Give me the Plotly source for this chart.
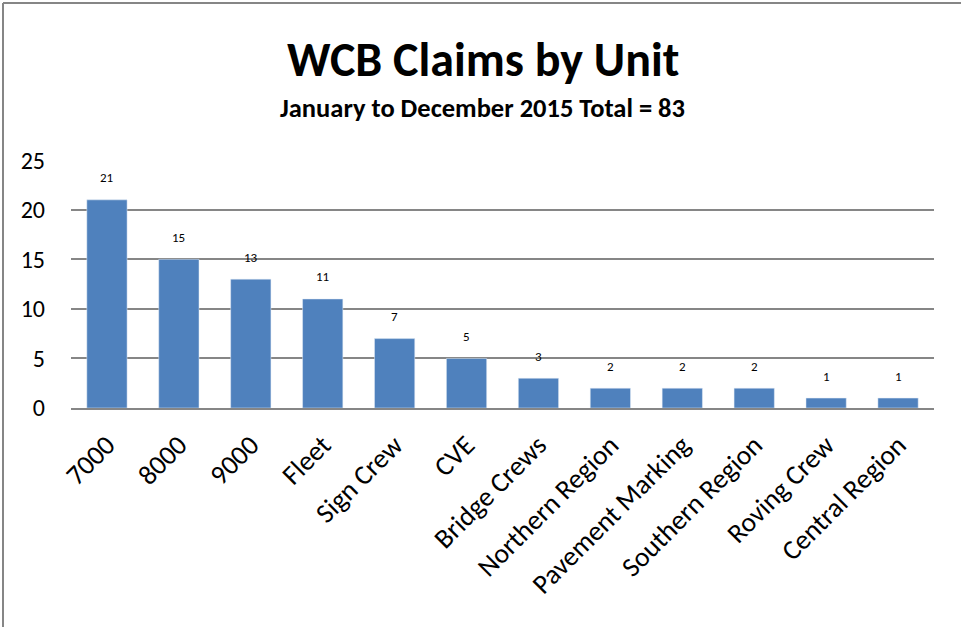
import plotly.graph_objects as go

units = ["7000", "8000", "9000", "Fleet", "Sign Crew", "CVE", "Bridge Crews",
         "Northern Region", "Pavement Marking", "Southern Region", "Roving Crew",
         "Central Region"]
claims = [21, 15, 13, 11, 7, 5, 3, 2, 2, 2, 1, 1]
y_ticks = [0, 5, 10, 15, 20, 25]

FONT = "Carlito, Calibri, Lato, sans-serif"
W, H = 961, 627
ML, MR, MT, MB = 71, 27, 160, 219
PW, PH = W - ML - MR, H - MT - MB

fig = go.Figure()
fig.add_trace(go.Bar(x=units, y=claims, marker=dict(color="#4F81BD"),
                     width=0.56, hoverinfo="x+y"))

# value labels above bars (category axis positions by index)
for i, c in enumerate(claims):
    fig.add_annotation(x=i, y=c, text=str(c), showarrow=False, yshift=22,
                       font=dict(family=FONT, size=13, color="#000"))

fig.add_annotation(xref="paper", yref="paper", x=(483 - ML) / PW, y=1 + (MT - 60) / PH,
                   text="<b>WCB Claims by Unit</b>", showarrow=False, yanchor="middle",
                   font=dict(family=FONT, size=48, color="#000"))
fig.add_annotation(xref="paper", yref="paper", x=(482 - ML) / PW, y=1 + (MT - 108) / PH,
                   text="<b>January to December 2015 Total = 83</b>", showarrow=False,
                   yanchor="middle", font=dict(family=FONT, size=26.5, color="#000"))

# chart border (top and left edges visible)
fig.add_shape(type="line", xref="paper", yref="paper",
              x0=(3 - ML) / PW, x1=(W + 5 - ML) / PW, y0=1 + (MT - 3) / PH, y1=1 + (MT - 3) / PH,
              line=dict(color="#868686", width=2))
fig.add_shape(type="line", xref="paper", yref="paper",
              x0=(3 - ML) / PW, x1=(3 - ML) / PW, y0=-(MB + 5) / PH, y1=1 + (MT - 3) / PH,
              line=dict(color="#868686", width=2))

fig.update_layout(
    width=W, height=H, margin=dict(l=ML, r=MR, t=MT, b=MB),
    paper_bgcolor="white", plot_bgcolor="white", showlegend=False,
    bargap=0.44,
    font=dict(family=FONT, color="#000"),
    xaxis=dict(type="category", range=[-0.5, len(units) - 0.5], tickangle=-45,
               tickfont=dict(size=27.5, family=FONT),
               showgrid=False, automargin=False,
               showline=True, linecolor="#868686", linewidth=2, ticks="",
               ticklabelstandoff=8),
    yaxis=dict(range=[0, 25.02], tickvals=y_ticks, tickfont=dict(size=24, family=FONT),
               showgrid=True, gridcolor="#868686", gridwidth=1.5, zeroline=False,
               automargin=False,
               showline=False, ticks="", ticklabelstandoff=25),
)

fig.write_html("out.html", config={"displayModeBar": False},
               post_script="document.body.style.margin='0';")
